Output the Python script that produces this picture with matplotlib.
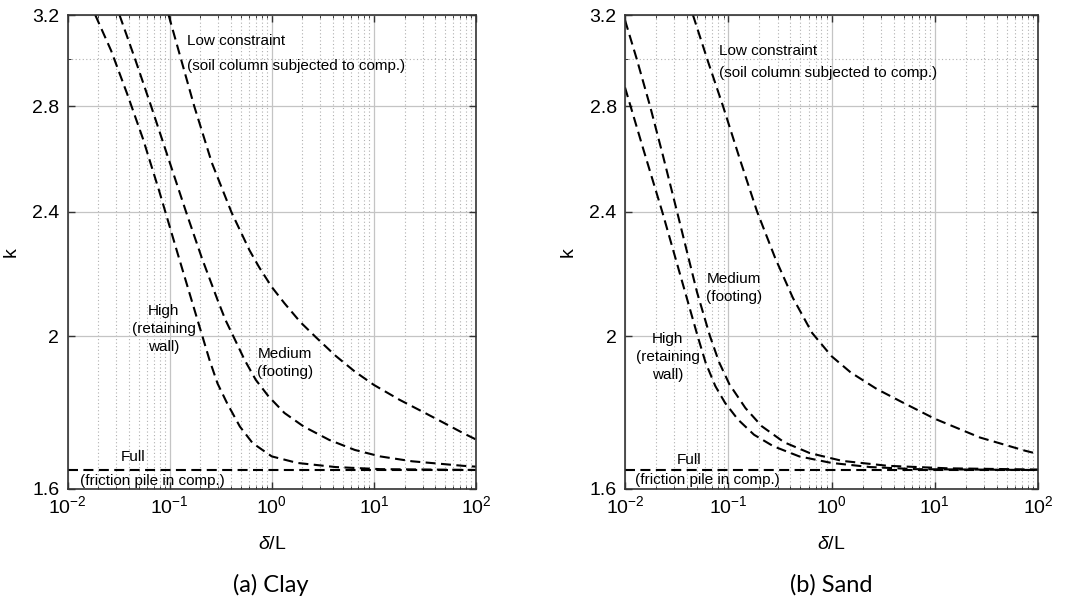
import matplotlib
matplotlib.use("Agg")
import matplotlib.pyplot as plt
from matplotlib.ticker import FixedLocator, FixedFormatter, LogLocator, NullFormatter

# ---- values ----
# (a) Clay
clay_high_x = [0.0187, 0.0267, 0.0384, 0.055, 0.0789, 0.1198, 0.1714, 0.2459, 0.2944, 0.365, 0.487, 0.649, 1.0, 1.78, 4.22, 11.5, 100]
clay_high_k = [3.2, 3.038, 2.851, 2.668, 2.474, 2.257, 2.088, 1.931, 1.866, 1.813, 1.752, 1.710, 1.677, 1.661, 1.651, 1.646, 1.644]
clay_med_x = [0.0323, 0.0459, 0.0659, 0.1454, 0.2068, 0.2944, 0.3518, 0.437, 0.543, 0.697, 0.93, 1.332, 2.053, 3.65, 6.49, 11.5, 23.7, 74.9, 100]
clay_med_k = [3.2, 3.0, 2.8, 2.397, 2.242, 2.109, 2.048, 1.989, 1.931, 1.876, 1.831, 1.787, 1.752, 1.718, 1.693, 1.677, 1.665, 1.654, 1.652]
clay_low_x = [0.0977, 0.1742, 0.2587, 0.4037, 0.6046, 0.7495, 1.0, 1.335, 1.91, 2.74, 4.22, 6.49, 10.0, 17.8, 31.7, 48.7, 75, 100]
clay_low_k = [3.2, 2.8, 2.578, 2.397, 2.268, 2.213, 2.149, 2.098, 2.041, 1.995, 1.943, 1.899, 1.862, 1.822, 1.787, 1.761, 1.735, 1.719]

# (b) Sand
sand_high_x = [0.01, 0.015, 0.02304, 0.03519, 0.0505, 0.06047, 0.0749, 0.093, 0.1242, 0.1777, 0.274, 0.487, 1.0, 2.37, 6.49, 75, 100]
sand_high_k = [2.878, 2.631, 2.397, 2.174, 2.0, 1.923, 1.859, 1.814, 1.770, 1.731, 1.702, 1.677, 1.661, 1.651, 1.646, 1.644, 1.644]
sand_med_x = [0.01, 0.013, 0.0175, 0.0233, 0.0319, 0.0407, 0.0498, 0.0665, 0.0815, 0.1025, 0.1467, 0.2105, 0.348, 0.618, 1.27, 3.52, 13.4, 100]
sand_med_k = [3.176, 3.0, 2.8, 2.605, 2.4, 2.25, 2.133, 2.0, 1.925, 1.864, 1.800, 1.753, 1.712, 1.685, 1.666, 1.654, 1.648, 1.645]
sand_low_x = [0.0455, 0.0639, 0.089, 0.1308, 0.1901, 0.2848, 0.4226, 0.6498, 1.0, 1.539, 2.74, 4.87, 10.0, 27.4, 75, 100]
sand_low_k = [3.2, 2.987, 2.8, 2.586, 2.4, 2.242, 2.115, 2.009, 1.942, 1.896, 1.851, 1.815, 1.772, 1.724, 1.691, 1.683]

full_x = [0.01, 100]
full_k = [1.643, 1.643]

ytick_vals = [1.6, 2, 2.4, 2.8, 3.2]
ytick_labels = ["1.6", "2", "2.4", "2.8", "3.2"]

plt.rcParams['font.family'] = ['Liberation Sans', 'DejaVu Sans']
plt.rcParams['mathtext.fontset'] = 'custom'
plt.rcParams['mathtext.rm'] = 'Liberation Sans'
plt.rcParams['mathtext.it'] = 'Liberation Sans:italic'

fig = plt.figure(figsize=(10.66, 6.08), dpi=100)
W, H = 1066, 608
ax1 = fig.add_axes([67.5 / W, (H - 488.5) / H, 408.5 / W, 473.5 / H])
ax2 = fig.add_axes([625 / W, (H - 488.5) / H, 413 / W, 473.5 / H])

dash = dict(color='k', lw=1.5, dashes=(4.8, 2.6))


def style(ax):
    ax.set_xscale('log')
    ax.set_yscale('log')
    ax.set_xlim(1e-2, 1e2)
    ax.set_ylim(1.6, 3.2)
    ax.yaxis.set_major_locator(FixedLocator(ytick_vals))
    ax.yaxis.set_major_formatter(FixedFormatter(ytick_labels))
    ax.yaxis.set_minor_locator(FixedLocator([3.0]))
    ax.yaxis.set_minor_formatter(NullFormatter())
    ax.xaxis.set_major_locator(LogLocator(base=10, numticks=10))
    ax.xaxis.set_minor_locator(LogLocator(base=10, subs=range(2, 10), numticks=20))
    ax.xaxis.set_minor_formatter(NullFormatter())
    ax.grid(True, which='major', color='#c4c4c4', lw=0.9, ls='-')
    ax.grid(True, which='minor', color='#b0b0b0', lw=0.8, ls=(0, (1, 2.2)))
    ax.set_axisbelow(True)
    ax.tick_params(which='both', direction='in', top=True, right=True,
                   labelsize=14, color='#333333')
    ax.tick_params(which='major', length=5, width=1)
    ax.tick_params(which='minor', length=2.5, width=0.7)
    ax.tick_params(axis='x', pad=5)
    ax.tick_params(axis='y', pad=6)
    for s in ax.spines.values():
        s.set_color('#333333')
        s.set_linewidth(1.2)
    ax.set_ylabel('k', fontsize=14)
    ax.yaxis.set_label_coords(-0.118, 0.5)
    ax.set_xlabel(r'$\delta$/L', fontsize=14)
    ax.xaxis.set_label_coords(0.5, -0.1)


fs = 11

# Clay
ax1.plot(clay_high_x, clay_high_k, **dash)
ax1.plot(clay_med_x, clay_med_k, **dash)
ax1.plot(clay_low_x, clay_low_k, **dash)
ax1.plot(full_x, full_k, **dash)
style(ax1)
ax1.text(0.148, 3.08, 'Low constraint', fontsize=fs, va='center', ha='left')
ax1.text(0.148, 2.97, '(soil column subjected to comp.)', fontsize=fs, va='center', ha='left')
ax1.text(0.087, 2.02, 'High\n(retaining\nwall)', fontsize=fs, va='center', ha='center', linespacing=1.35)
ax1.text(1.35, 1.922, 'Medium\n(footing)', fontsize=fs, va='center', ha='center', linespacing=1.35)
ax1.text(0.044, 1.675, 'Full', fontsize=fs, va='center', ha='center')
ax1.text(0.068, 1.617, '(friction pile in comp.)', fontsize=fs, va='center', ha='center')

# Sand
ax2.plot(sand_high_x, sand_high_k, **dash)
ax2.plot(sand_med_x, sand_med_k, **dash)
ax2.plot(sand_low_x, sand_low_k, **dash)
ax2.plot(full_x, full_k, **dash)
style(ax2)
ax2.text(0.081, 3.037, 'Low constraint', fontsize=fs, va='center', ha='left')
ax2.text(0.081, 2.94, '(soil column subjected to comp.)', fontsize=fs, va='center', ha='left')
ax2.text(0.114, 2.146, 'Medium\n(footing)', fontsize=fs, va='center', ha='center', linespacing=1.35)
ax2.text(0.026, 1.939, 'High\n(retaining\nwall)', fontsize=fs, va='center', ha='center', linespacing=1.35)
ax2.text(0.0417, 1.669, 'Full', fontsize=fs, va='center', ha='center')
ax2.text(0.063, 1.621, '(friction pile in comp.)', fontsize=fs, va='center', ha='center')

fig.text(271 / W, 1 - 585 / H, '(a) Clay', fontsize=17, ha='center', va='center', family=['Lato', 'DejaVu Sans'])
fig.text(831 / W, 1 - 585 / H, '(b) Sand', fontsize=17, ha='center', va='center', family=['Lato', 'DejaVu Sans'])

fig.savefig('out.png', dpi=100, facecolor='white')
